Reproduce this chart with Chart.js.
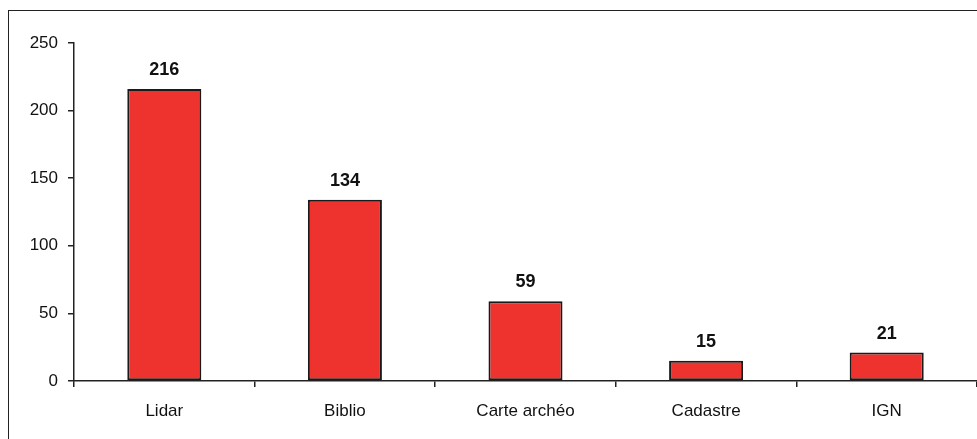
<!DOCTYPE html>
<html>
<head>
<meta charset="utf-8">
<script src="https://cdn.jsdelivr.net/npm/chart.js@4"></script>
<style>
    html, body { margin: 0; padding: 0; background: #fff; overflow: hidden; }
    #wrap { position: relative; width: 977px; height: 439px; }
    #frame {
        position: absolute; left: 8px; top: 10px; width: 1000px; height: 500px;
        border-left: 1px solid #222; border-top: 1px solid #222;
    }
    canvas { position: absolute; left: 0; top: 0; }
</style>
</head>
<body>
<div id="wrap">
    <div id="frame"></div>
    <canvas id="chart" width="977" height="439"></canvas>
</div>
<script>
// Sources utilisées
const categories = ['Lidar', 'Biblio', 'Carte archéo', 'Cadastre', 'IGN'];
const counts = [216, 134, 59, 15, 21];
const yTicks = [0, 50, 100, 150, 200, 250];

const FONT = '"Liberation Sans", Arial, sans-serif';

// Valeur affichée au-dessus de chaque barre
const valueLabels = {
    id: 'valueLabels',
    afterDatasetsDraw(chart) {
        const ctx = chart.ctx;
        const meta = chart.getDatasetMeta(0);
        ctx.save();
        ctx.font = 'bold 18px ' + FONT;
        ctx.fillStyle = '#111';
        ctx.textAlign = 'center';
        ctx.textBaseline = 'bottom';
        meta.data.forEach((bar, i) => {
            ctx.fillText(String(counts[i]), bar.x, bar.y - 10);
        });
        ctx.restore();
    }
};

const ctx = document.getElementById('chart').getContext('2d');
new Chart(ctx, {
    type: 'bar',
    data: {
        labels: categories,
        datasets: [{
            data: counts,
            backgroundColor: 'rgb(238, 50, 46)',
            borderColor: '#1a1a1a',
            borderWidth: 2,
            borderSkipped: false,
            categoryPercentage: 1,
            barPercentage: 0.41
        }]
    },
    options: {
        responsive: false,
        animation: false,
        layout: { padding: { top: 43, right: 0, left: 0, bottom: 0 } },
        plugins: {
            legend: { display: false },
            tooltip: { enabled: false }
        },
        scales: {
            x: {
                offset: true,
                grid: {
                    offset: true,
                    drawOnChartArea: false,
                    drawTicks: true,
                    tickLength: 6,
                    color: '#222',
                    lineWidth: 1.5
                },
                border: { color: '#222', width: 1.5 },
                ticks: {
                    color: '#111',
                    padding: 14,
                    font: { family: FONT, size: 17 }
                },
                afterFit: s => { s.height = 58; }
            },
            y: {
                min: 0,
                max: 250,
                afterBuildTicks: s => { s.ticks = yTicks.map(v => ({ value: v })); },
                grid: {
                    drawOnChartArea: false,
                    drawTicks: true,
                    tickLength: 6,
                    color: '#222',
                    lineWidth: 1.5
                },
                border: { color: '#222', width: 1.5 },
                ticks: {
                    color: '#111',
                    padding: 10,
                    font: { family: FONT, size: 17 }
                },
                afterFit: s => { s.width = 74; }
            }
        }
    },
    plugins: [valueLabels]
});
</script>
</body>
</html>
